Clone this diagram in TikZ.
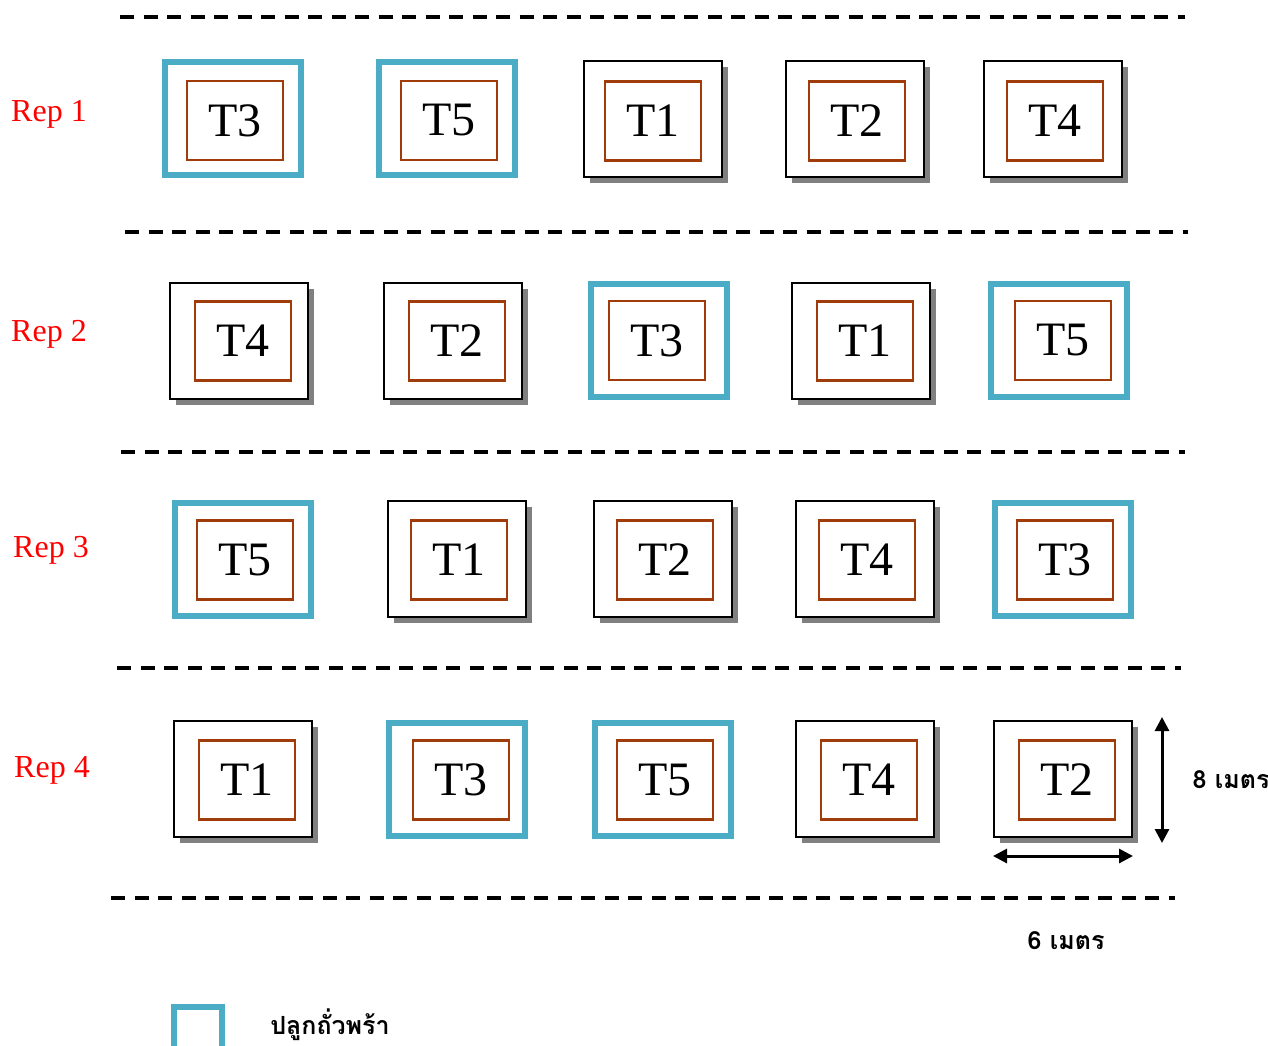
\documentclass[tikz,border=0pt]{standalone}
\usepackage{fontspec}
\setmainfont{Liberation Serif}
\newfontfamily\thaifont[Script=Thai]{Loma}
\usepackage{xcolor}
\usepackage{tikz}
\usetikzlibrary{arrows.meta,positioning,shadows}

\definecolor{beanblue}{RGB}{75,172,198}
\definecolor{trtbrown}{RGB}{160,60,10}

\begin{document}
\begin{tikzpicture}[x=1pt, y=-1pt,
  plotbox/.style  = {draw=black, line width=2.5pt, fill=white,
                     minimum width=138pt, minimum height=116pt,
                     drop shadow={shadow xshift=6pt, shadow yshift=-6pt,
                                  fill=gray, opacity=1}},
  beanbox/.style  = {draw=beanblue, line width=6pt, fill=white,
                     minimum width=136pt, minimum height=113pt},
  trt/.style      = {draw=trtbrown, line width=2.2pt, inner sep=0pt,
                     minimum width=96pt, minimum height=79pt,
                     font=\fontsize{48}{50}\selectfont},
  replabel/.style = {text=red, font=\fontsize{32}{34}\selectfont},
  rowline/.style  = {line width=3.5pt, dash pattern=on 14pt off 9.5pt},
  dimarr/.style   = {{Triangle[length=14pt,width=14pt]}-{Triangle[length=14pt,width=14pt]},
                     line width=3pt},
  thai/.style     = {font=\thaifont\bfseries\fontsize{25}{30}\selectfont},
]
\useasboundingbox (0,0) rectangle (1268,1045);

%% ── row borders ─────────────────────────────────────────────────────────────
\draw[rowline] (120,17)  -- (1185,17);
\draw[rowline] (125,232) -- (1188,232);
\draw[rowline] (121,452) -- (1185,452);
\draw[rowline] (117,668) -- (1181,668);
\draw[rowline] (111,898) -- (1175,898);

%% ── Rep 1 ───────────────────────────────────────────────────────────────────
\node[replabel] (rep1) at (49,114) {Rep 1};
\node[beanbox] (r1p1) at (233,118.5) {};
\node[beanbox] (r1p2) at (447,118.5) {};
\node[plotbox] (r1p3) at (653,119) {};
\node[plotbox] (r1p4) at (855,119) {};
\node[plotbox] (r1p5) at (1053,119) {};
\node[trt] (r1t1) at ([shift={(2,2)}]r1p1.center) {T3};
\node[trt] (r1t2) at ([shift={(2,2)}]r1p2.center) {T5};
\node[trt] (r1t3) at ([shift={(0,2)}]r1p3.center) {T1};
\node[trt] (r1t4) at ([shift={(2,2)}]r1p4.center) {T2};
\node[trt] (r1t5) at ([shift={(2,2)}]r1p5.center) {T4};

%% ── Rep 2 ───────────────────────────────────────────────────────────────────
\node[replabel] (rep2) at (49,334) {Rep 2};
\node[plotbox] (r2p1) at (239,341) {};
\node[plotbox] (r2p2) at (453,341) {};
\node[beanbox] (r2p3) at (659,340.5) {};
\node[plotbox] (r2p4) at (861,341) {};
\node[beanbox] (r2p5) at (1059,340.5) {};
\node[trt] (r2t1) at ([shift={(4,0)}]r2p1.center) {T4};
\node[trt] (r2t2) at ([shift={(4,0)}]r2p2.center) {T2};
\node[trt] (r2t3) at ([shift={(-2,0)}]r2p3.center) {T3};
\node[trt] (r2t4) at ([shift={(4,0)}]r2p4.center) {T1};
\node[trt] (r2t5) at ([shift={(4,0)}]r2p5.center) {T5};

%% ── Rep 3 ───────────────────────────────────────────────────────────────────
\node[replabel] (rep3) at (51,550) {Rep 3};
\node[beanbox] (r3p1) at (243,559) {};
\node[plotbox] (r3p2) at (457,559) {};
\node[plotbox] (r3p3) at (663,559) {};
\node[plotbox] (r3p4) at (865,559) {};
\node[beanbox] (r3p5) at (1063,559) {};
\node[trt] (r3t1) at ([shift={(2,1)}]r3p1.center) {T5};
\node[trt] (r3t2) at ([shift={(2,1)}]r3p2.center) {T1};
\node[trt] (r3t3) at ([shift={(2,1)}]r3p3.center) {T2};
\node[trt] (r3t4) at ([shift={(2,1)}]r3p4.center) {T4};
\node[trt] (r3t5) at ([shift={(2,1)}]r3p5.center) {T3};

%% ── Rep 4 ───────────────────────────────────────────────────────────────────
\node[replabel] (rep4) at (52,770) {Rep 4};
\node[plotbox] (r4p1) at (243,779) {};
\node[beanbox] (r4p2) at (457,779) {};
\node[beanbox] (r4p3) at (663,779) {};
\node[plotbox] (r4p4) at (865,779) {};
\node[plotbox] (r4p5) at (1063,779) {};
\node[trt] (r4t1) at ([shift={(4,1)}]r4p1.center) {T1};
\node[trt] (r4t2) at ([shift={(4,1)}]r4p2.center) {T3};
\node[trt] (r4t3) at ([shift={(2,1)}]r4p3.center) {T5};
\node[trt] (r4t4) at ([shift={(4,1)}]r4p4.center) {T4};
\node[trt] (r4t5) at ([shift={(4,1)}]r4p5.center) {T2};

%% ── plot size ───────────────────────────────────────────────────────────────
\coordinate (vtop) at (1162,717);
\coordinate (vbot) at (1162,843);
\coordinate (hlft) at (993,856);
\coordinate (hrgt) at (1133,856);
\draw[dimarr] (vtop) -- (vbot);
\draw[dimarr] (hlft) -- (hrgt);
\node[thai] (plotlen) at (1231,780) {8 เมตร};
\node[thai] (plotwid) at (1066,941) {6 เมตร};

%% ── legend ──────────────────────────────────────────────────────────────────
\node[beanbox, minimum width=48pt, minimum height=50pt] (key) at (198,1032) {};
\node[thai] (keytext) at (330,1025) {ปลูกถั่วพร้า};

\end{tikzpicture}
\end{document}
